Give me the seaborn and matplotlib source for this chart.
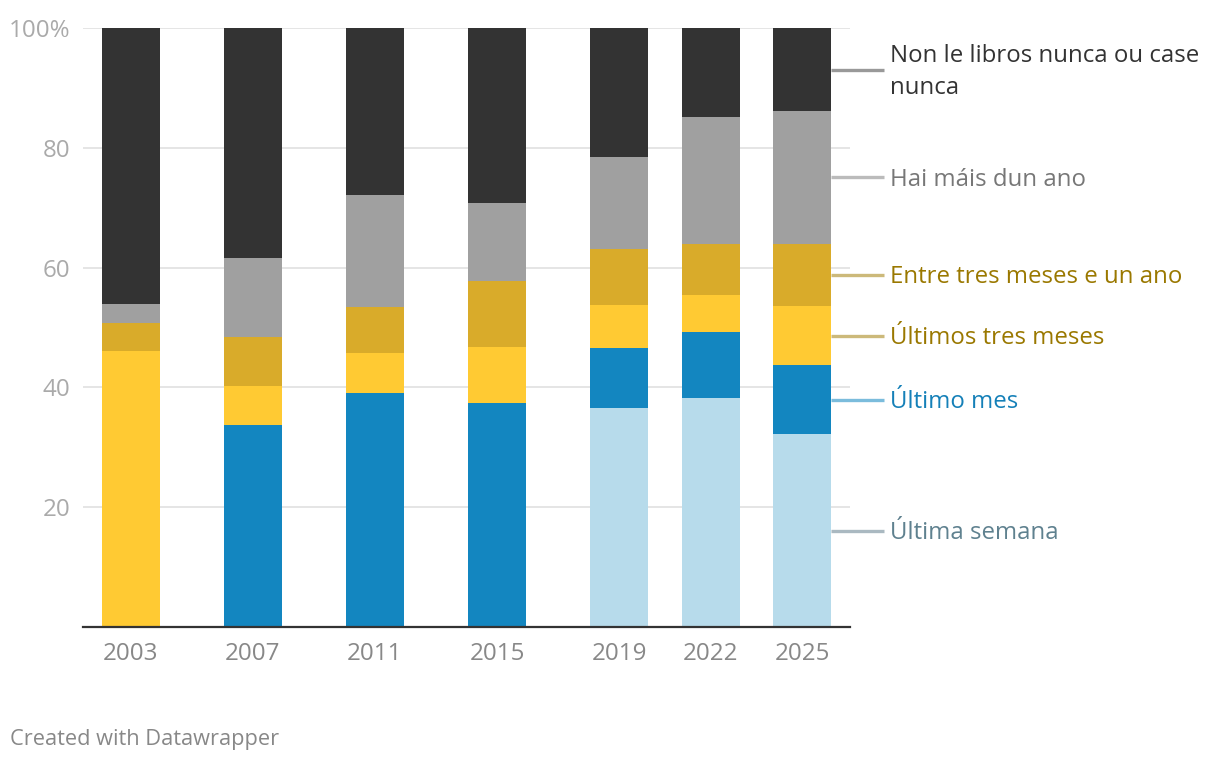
import numpy as np
import matplotlib.pyplot as plt
import seaborn as sns

years = [2003, 2007, 2011, 2015, 2019, 2022, 2025]

# share of each answer per survey year (%)
ultima_semana = [0.0, 0.0, 0.0, 0.0, 36.5, 38.3, 32.2]
ultimo_mes = [0.0, 33.8, 39.0, 37.4, 10.1, 11.0, 11.5]
ultimos_tres_meses = [46.0, 6.5, 6.8, 9.4, 7.2, 6.2, 9.9]
entre_tres_meses_ano = [4.7, 8.1, 7.6, 10.9, 9.3, 8.5, 10.4]
mais_dun_ano = [3.3, 13.2, 18.7, 13.1, 15.4, 21.1, 22.1]
nunca = [46.0, 38.4, 27.9, 29.2, 21.5, 14.9, 13.9]

series_names = [
    "Última semana",
    "Último mes",
    "Últimos tres meses",
    "Entre tres meses e un ano",
    "Hai máis dun ano",
    "Non le libros nunca ou case\nnunca",
]
bar_colors = ["#b7dbeb", "#1386c0", "#ffca33", "#d9ab2a", "#a0a0a0", "#333333"]
text_colors = ["#5f818f", "#1580b8", "#9a7800", "#9a7800", "#777777", "#333333"]
line_colors = ["#aab9c1", "#7bbcdc", "#ccb97a", "#ccb97a", "#bbbbbb", "#999999"]

series = [ultima_semana, ultimo_mes, ultimos_tres_meses,
          entre_tres_meses_ano, mais_dun_ano, nunca]

sns.set_theme(style="white")
plt.rcParams["font.family"] = ["Open Sans", "DejaVu Sans"]

fig = plt.figure(figsize=(12.2, 7.62), dpi=100)
ax = fig.add_axes([83 / 1220, 1 - 627 / 762, 767 / 1220, 599 / 762])

cum = np.cumsum(np.array(series), axis=0)

# draw top of stack first, then lower layers over it
for i in range(len(series) - 1, -1, -1):
    sns.barplot(x=years, y=cum[i], native_scale=True, width=0.633,
                color=bar_colors[i], saturation=1, linewidth=0,
                errorbar=None, ax=ax, zorder=3)

ax.set_xlim(2001.43, 2026.57)
ax.set_ylim(0, 100)
ax.set_xticks(years)
ax.set_xticklabels([str(y) for y in years])
ax.set_yticks([20, 40, 60, 80, 100])
ax.set_yticklabels(["20", "40", "60", "80", "100%"])
ax.tick_params(axis="x", length=0, pad=11, labelsize=17.4, labelcolor="#888888")
ax.tick_params(axis="y", length=0, pad=9, labelsize=17.4, labelcolor="#aaaaaa")
ax.grid(axis="y", color="#e5e5e5", lw=1.4, zorder=0)
ax.set_axisbelow(True)
for s in ["left", "right", "top"]:
    ax.spines[s].set_visible(False)
ax.spines["bottom"].set_color("#333333")
ax.spines["bottom"].set_linewidth(1.6)
ax.spines["bottom"].set_zorder(5)
ax.set_xlabel("")
ax.set_ylabel("")

# direct labels next to the last bar
last = cum[:, -1]
lower = np.concatenate([[0], last[:-1]])
for i, name in enumerate(series_names):
    ymid = (last[i] + lower[i]) / 2
    ax.plot([2025.95, 2027.69], [ymid, ymid], color=line_colors[i], lw=2.4,
            clip_on=False, solid_capstyle="butt", zorder=2)
    ax.text(2027.89, ymid - 0.35, name, color=text_colors[i], fontsize=17.3,
            va="center", ha="left", linespacing=1.45, clip_on=False)

fig.text(10 / 1220, 1 - 740 / 762, "Created with Datawrapper", color="#888888",
         fontsize=15.7, va="center", ha="left")

fig.savefig("out.png", dpi=100)
